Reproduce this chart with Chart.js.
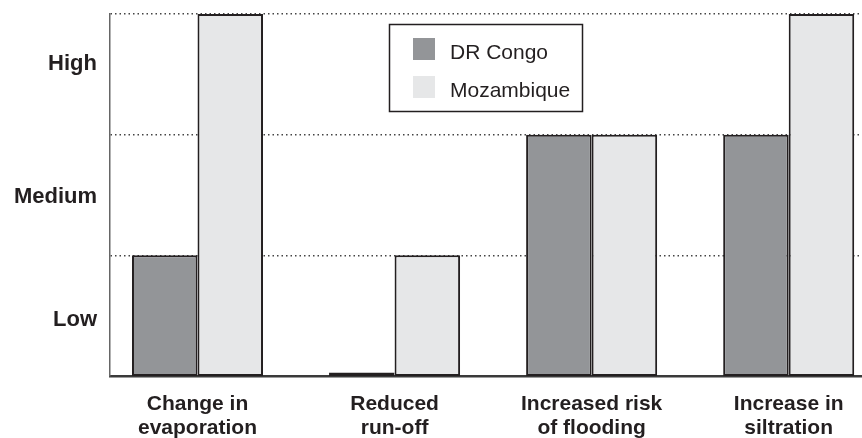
<!DOCTYPE html>
<html>
<head>
<meta charset="utf-8">
<script src="https://cdn.jsdelivr.net/npm/chart.js@4"></script>
<style>
  body { margin: 0; background: #fff; }
  #wrap { width: 862px; height: 438px; }
</style>
</head>
<body>
<div id="wrap"><canvas id="impactChart" width="862" height="438"></canvas></div>
<script>
const categories = [
    ['Change in', 'evaporation'],
    ['Reduced', 'run-off'],
    ['Increased risk', 'of flooding'],
    ['Increase in', 'siltration']
];
const drCongo = [1, 0.03, 2, 2];
const mozambique = [3, 1, 2, 3];
const levelLabels = ['Low', 'Medium', 'High'];
const levelPositions = [0.465, 1.485, 2.585];
const gridLevels = [1, 2, 3];

const ink = '#231f20';
const fontFamily = '"Liberation Sans", Arial, sans-serif';

// legend drawn as a boxed key inside the plot
const boxLegend = {
    id: 'boxLegend',
    afterDraw(chart) {
        const ctx = chart.ctx;
        ctx.save();
        ctx.fillStyle = '#fff';
        ctx.fillRect(389, 24, 194, 88);
        ctx.strokeStyle = ink;
        ctx.lineWidth = 1.5;
        ctx.strokeRect(389.5, 24.5, 193, 87);
        ctx.font = '21px ' + fontFamily;
        ctx.textBaseline = 'alphabetic';
        chart.data.datasets.forEach((ds, i) => {
            const y = 38 + i * 38;
            ctx.fillStyle = ds.backgroundColor;
            ctx.fillRect(413, y, 22, 22);
            ctx.fillStyle = ink;
            ctx.fillText(ds.label, 450, y + 21);
        });
        ctx.restore();
    }
};

const data = {
    datasets: [
        {
            label: 'DR Congo',
            data: drCongo.map((v, i) => ({ x: i, y: v })),
            backgroundColor: '#939598',
            borderColor: ink,
            borderWidth: 2,
            borderSkipped: false,
        },
        {
            label: 'Mozambique',
            data: mozambique.map((v, i) => ({ x: i, y: v })),
            backgroundColor: '#e6e7e8',
            borderColor: ink,
            borderWidth: 2,
            borderSkipped: false,
        }
    ]
};

const config = {
    type: 'bar',
    data: data,
    options: {
        responsive: false,
        animation: false,
        categoryPercentage: 0.665,
        barPercentage: 1.0,
        layout: { padding: { top: 14, right: 0, left: 0, bottom: 0 } },
        plugins: {
            legend: { display: false },
            tooltip: { enabled: false }
        },
        scales: {
            x: {
                type: 'linear',
                min: -0.444,
                max: 3.372,
                offset: false,
                afterBuildTicks: (scale) => {
                    scale.ticks = categories.map((c, i) => ({ value: i }));
                },
                afterFit: (scale) => {
                    scale.height = 62;
                    scale.paddingLeft = 0;
                    scale.paddingRight = 0;
                },
                grid: { display: false, drawTicks: false, offset: false },
                border: { display: true, color: '#3a3a3a', width: 2.5 },
                ticks: {
                    autoSkip: false,
                    maxRotation: 0,
                    padding: 16,
                    color: ink,
                    font: { family: fontFamily, size: 21, weight: 'bold', lineHeight: 1.15 },
                    callback: (v) => categories[v]
                }
            },
            y: {
                min: 0,
                max: 3,
                afterBuildTicks: (scale) => {
                    scale.ticks = levelPositions.concat(gridLevels)
                        .sort((a, b) => a - b)
                        .map(v => ({ value: v }));
                },
                afterFit: (scale) => {
                    scale.width = 110;
                    scale.paddingTop = 0;
                    scale.paddingBottom = 0;
                },
                grid: {
                    drawTicks: false,
                    lineWidth: 1.5,
                    color: (c) => (c.tick && gridLevels.includes(c.tick.value)) ? '#444' : 'rgba(0,0,0,0)'
                },
                border: { display: true, color: '#666', width: 1.5, dash: [1.5, 3] },
                ticks: {
                    padding: 13,
                    color: ink,
                    font: { family: fontFamily, size: 22, weight: 'bold' },
                    callback: (v) => {
                        const k = levelPositions.indexOf(v);
                        return k >= 0 ? levelLabels[k] : '';
                    }
                }
            }
        }
    },
    plugins: [boxLegend]
};

const myChart = new Chart(document.getElementById('impactChart'), config);
</script>
</body>
</html>
